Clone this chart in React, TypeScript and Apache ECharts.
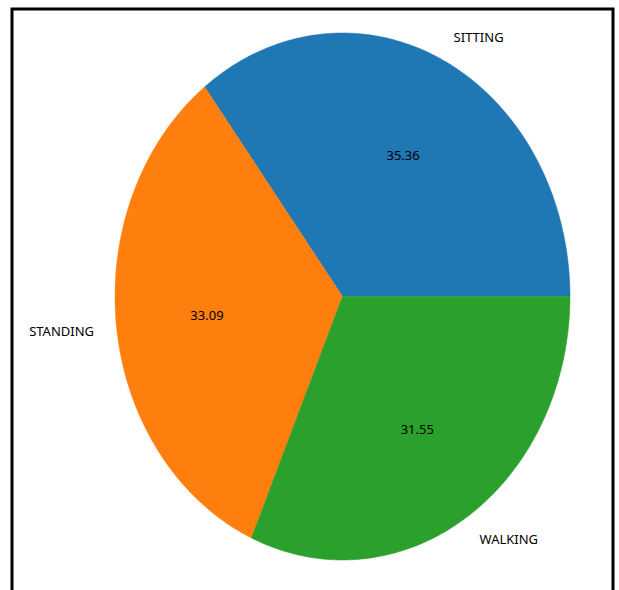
import React, { useEffect, useRef } from "react";
import * as echarts from "echarts";

const categories = ["SITTING", "STANDING", "WALKING"];
const values = [35.36, 33.09, 31.55];
const colors = ["#1f77b4", "#ff7f0e", "#2ca02c"];

const W = 619;
const H = 590;

export default function App() {
  const ref = useRef<HTMLDivElement>(null);
  useEffect(() => {
    document.body.style.margin = "0";
    const chart = echarts.init(ref.current!, null, { renderer: "svg" });
    const total = values.reduce((a, b) => a + b, 0);
    const font = '13px "Noto Sans", sans-serif';
    chart.setOption({
      animation: false,
      backgroundColor: "#ffffff",
      graphic: [
        {
          type: "rect",
          shape: { x: 12, y: 9, width: 601, height: 640 },
          style: { fill: "none", stroke: "#000", lineWidth: 3 },
          z: 100,
        },
      ],
      series: [
        {
          type: "custom",
          coordinateSystem: "none",
          silent: true,
          data: values.map((v, i) => ({ value: [v], name: categories[i] })),
          renderItem: (params: any, api: any) => {
            const idx = params.dataIndex;
            const w = api.getWidth();
            const h = api.getHeight();
            const cx = (342.5 / W) * w;
            const cy = (296.5 / H) * h;
            const rx = (227.5 / W) * w;
            const ry = (263.5 / H) * h;
            let before = 0;
            for (let k = 0; k < idx; k++) before += values[k];
            const v = api.value(0);
            const a0 = (before / total) * Math.PI * 2;
            const a1 = ((before + v) / total) * Math.PI * 2;
            const pts: number[][] = [[cx, cy]];
            const n = 120;
            for (let s = 0; s <= n; s++) {
              const t = a0 + ((a1 - a0) * s) / n;
              pts.push([cx + rx * Math.cos(t), cy - ry * Math.sin(t)]);
            }
            const mid = (a0 + a1) / 2;
            const lx = cx + rx * 1.1 * Math.cos(mid);
            const ly = cy - ry * 1.1 * Math.sin(mid);
            const px = cx + rx * 0.6 * Math.cos(mid);
            const py = cy - ry * 0.6 * Math.sin(mid);
            return {
              type: "group",
              children: [
                {
                  type: "polygon",
                  shape: { points: pts },
                  style: { fill: colors[idx], stroke: colors[idx], lineWidth: 0.5 },
                },
                {
                  type: "text",
                  x: lx,
                  y: ly,
                  style: {
                    text: categories[idx],
                    fill: "#000",
                    font,
                    align: Math.cos(mid) > 0 ? "left" : "right",
                    verticalAlign: "middle",
                  },
                },
                {
                  type: "text",
                  x: px,
                  y: py,
                  style: {
                    text: v.toFixed(2),
                    fill: "#000",
                    font,
                    align: "center",
                    verticalAlign: "middle",
                  },
                },
              ],
            };
          },
        },
      ],
    });
    return () => chart.dispose();
  }, []);
  return <div ref={ref} style={{ width: W, height: H }} />;
}
